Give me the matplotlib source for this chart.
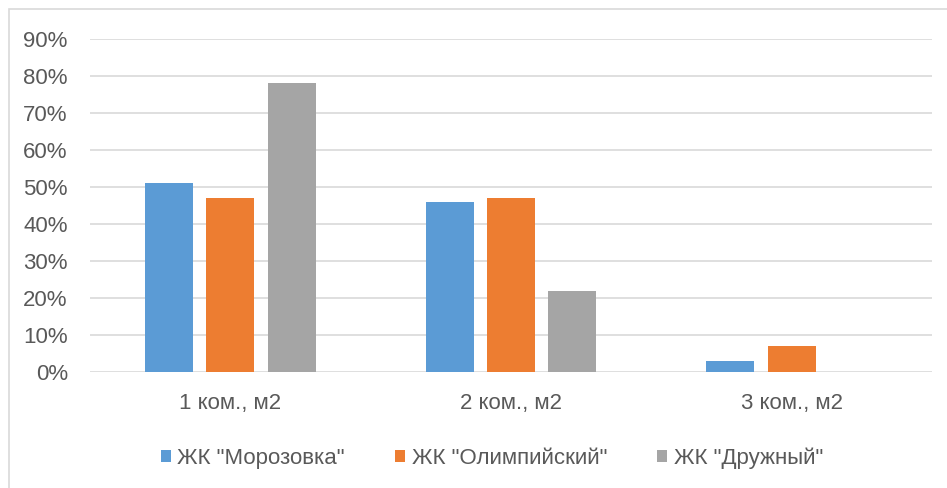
import matplotlib
matplotlib.use("Agg")
import matplotlib.pyplot as plt
import numpy as np
from matplotlib.ticker import MultipleLocator, FuncFormatter
from matplotlib.patches import Rectangle

categories = ["1 ком., м2", "2 ком., м2", "3 ком., м2"]
series_names = ['ЖК "Морозовка"', 'ЖК "Олимпийский"', 'ЖК "Дружный"']
morozovka = [0.51, 0.46, 0.03]
olimp = [0.47, 0.47, 0.07]
druzhny = [0.78, 0.22, 0.0]
colors = ["#5B9BD5", "#ED7D31", "#A5A5A5"]

plt.rcParams['font.family'] = ['Liberation Sans', 'DejaVu Sans']

fig = plt.figure(figsize=(9.47, 4.88), dpi=100)
ax = fig.add_axes([90/947, 1-372/488, (932-90)/947, (372-39)/488])

x = np.arange(len(categories))
w = 0.171
step = 0.219
for i, (vals, name, c) in enumerate(zip([morozovka, olimp, druzhny], series_names, colors)):
    ax.bar(x + (i-1)*step, vals, width=w, color=c, label=name, zorder=3)

ax.set_xlim(-0.5, 2.5)
ax.set_ylim(0, 0.9)
ax.yaxis.set_major_locator(MultipleLocator(0.1))
ax.yaxis.set_major_formatter(FuncFormatter(lambda v, p: f"{v*100:.0f}%"))
ax.grid(axis='y', color='#d9d9d9', linewidth=1.2, zorder=0)
ax.set_axisbelow(True)
for s in ax.spines.values():
    s.set_visible(False)
ax.tick_params(axis='both', length=0, labelsize=16, colors='#595959')
ax.tick_params(axis='y', pad=16)
ax.tick_params(axis='x', pad=15)
ax.set_xticks(x)
ax.set_xticklabels(categories)

leg = fig.legend(loc='center', bbox_to_anchor=(492/947, 1-458/488), ncol=3, frameon=False,
                 fontsize=16, handlelength=0.45, handleheight=0.45, columnspacing=2.25,
                 handletextpad=0.3)
for t in leg.get_texts():
    t.set_color('#595959')

# outer chart frame
fig.patches.append(Rectangle((9/947, -0.1), 2, 1.1 - 9/488, transform=fig.transFigure,
                             fill=False, edgecolor='#d9d9d9', linewidth=1.2))

fig.savefig("out.png", dpi=100)
